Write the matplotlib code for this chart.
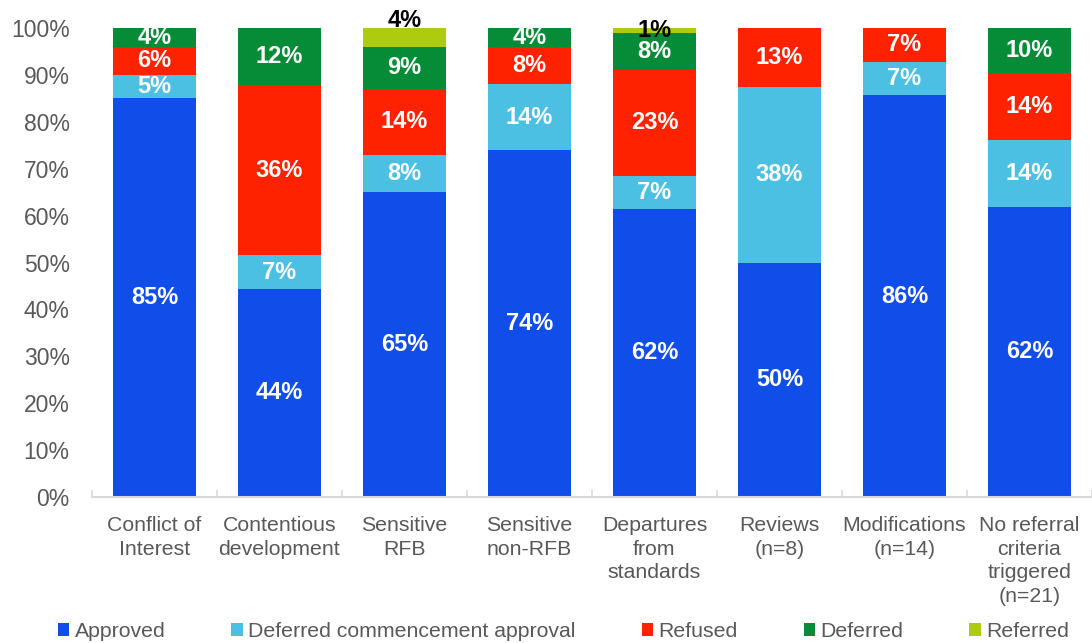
import matplotlib
matplotlib.use('Agg')
import matplotlib.pyplot as plt
from matplotlib.patches import Patch
import numpy as np

plt.rcParams['font.family'] = ['Liberation Sans', 'DejaVu Sans']

categories = ['Conflict of\nInterest', 'Contentious\ndevelopment', 'Sensitive\nRFB',
              'Sensitive\nnon-RFB', 'Departures\nfrom\nstandards', 'Reviews\n(n=8)',
              'Modifications\n(n=14)', 'No referral\ncriteria\ntriggered\n(n=21)']

approved = [85, 44.4, 65, 74, 61.5, 50, 85.7, 61.9]
deferred_comm = [5, 7.1, 8, 14, 6.9, 37.5, 7.15, 14.3]
refused = [6, 36.4, 14, 8, 22.7, 12.5, 7.15, 14.3]
deferred = [4, 12.1, 9, 4, 7.9, 0, 0, 9.5]
referred = [0, 0, 4, 0, 1.0, 0, 0, 0]

series_names = ['Approved', 'Deferred commencement approval', 'Refused', 'Deferred', 'Referred']
colors = ['#114DE8', '#4BC0E2', '#FF2200', '#068B37', '#AECB0E']

grey = '#595959'

fig = plt.figure(figsize=(10.92, 6.43), dpi=100)
ax = fig.add_axes([0.0842, 0.227, 1 - 0.0842, 0.9565 - 0.227])

x = np.arange(len(categories))
width = 0.67
bottom = np.zeros(len(categories))
all_series = [approved, deferred_comm, refused, deferred, referred]

for vals, name, col in zip(all_series, series_names, colors):
    vals = np.array(vals, dtype=float)
    ax.bar(x, vals, width, bottom=bottom, color=col, label=name, linewidth=0)
    for i, v in enumerate(vals):
        if v <= 0:
            continue
        lab = f'{int(v + 0.5)}%'
        if name == 'Referred':
            # small referred slices: label sits on the bar; bigger ones go above
            if v > 2:
                ax.text(x[i], bottom[i] + v + 0.2, lab, ha='center', va='baseline',
                        color='black', fontsize=17, fontweight='bold')
            else:
                ax.text(x[i], bottom[i] + v / 2, lab, ha='center', va='center',
                        color='black', fontsize=17, fontweight='bold')
        else:
            ax.text(x[i], bottom[i] + v / 2, lab, ha='center', va='center',
                    color='white', fontsize=17, fontweight='bold')
    bottom += vals

ax.set_xlim(-0.5, 7.45)
ax.set_ylim(0, 100)
ax.set_yticks(np.arange(0, 101, 10))
ax.set_yticklabels([f'{t}%' for t in range(0, 101, 10)])
ax.set_xticks(x)
ax.set_xticklabels(categories, linespacing=1.3)
ax.set_xticks(np.arange(-0.5, 7.6, 1), minor=True)

ax.tick_params(axis='y', length=0, pad=16, labelsize=16.5, labelcolor=grey)
ax.tick_params(axis='x', which='major', length=0, pad=14, labelsize=15.3, labelcolor=grey)
ax.tick_params(axis='x', which='minor', direction='in', length=5, color='#D9D9D9', width=1.2)

for s in ['top', 'right', 'left']:
    ax.spines[s].set_visible(False)
ax.spines['bottom'].set_color('#D9D9D9')
ax.spines['bottom'].set_linewidth(1.5)

handles = [Patch(facecolor=c, edgecolor='none', label=n) for c, n in zip(colors, series_names)]
fig.legend(handles=handles, loc='center', bbox_to_anchor=(0.516, 0.018), ncol=5,
           frameon=False, fontsize=15.3, labelcolor=grey, handlelength=0.55,
           handleheight=0.55, handletextpad=0.25, columnspacing=3.1)

fig.savefig('out.png', dpi=100)
